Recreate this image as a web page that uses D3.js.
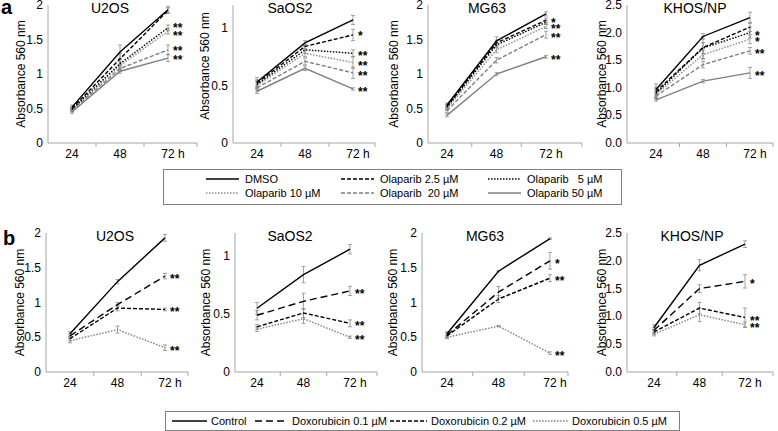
<!DOCTYPE html>
<html>
<head>
<meta charset="utf-8">
<script src="https://cdn.jsdelivr.net/npm/d3@7"></script>
<style>
  body { margin: 0; background: #fff; }
  svg { font-family: "Liberation Sans", Arial, sans-serif; }
  text { white-space: pre; }
</style>
</head>
<body>
<div id="fig"></div>
<script>
// categories
const HOURS = ["24", "48", "72"];
const OLA_NAMES = ["DMSO", "Olaparib 2.5 µM", "Olaparib   5 µM", "Olaparib 10 µM", "Olaparib  20 µM", "Olaparib 50 µM"];
const DOX_NAMES = ["Control", "Doxorubicin 0.1 µM", "Doxorubicin 0.2 µM", "Doxorubicin 0.5 µM"];

// panel a : olaparib (rows = series, cols = 24/48/72 h)
const U2OS_A = [[0.52, 1.32, 1.93], [0.50, 1.22, 1.92], [0.49, 1.15, 1.67], [0.48, 1.12, 1.62], [0.47, 1.08, 1.35], [0.45, 1.04, 1.23]];
const U2OS_A_ERR = [[0.03, 0.10, 0.05], [0.02, 0.08, 0.04], [0.02, 0.06, 0.04], [0.02, 0.05, 0.04], [0.02, 0.04, 0.07], [0.02, 0.03, 0.05]];
const U2OS_A_SIG = ["", "", "**", "**", "**", "**"];

const SAOS2_A = [[0.53, 0.87, 1.07], [0.52, 0.84, 0.94], [0.51, 0.81, 0.78], [0.50, 0.78, 0.70], [0.48, 0.71, 0.61], [0.45, 0.65, 0.47]];
const SAOS2_A_ERR = [[0.04, 0.02, 0.04], [0.03, 0.02, 0.05], [0.03, 0.03, 0.03], [0.03, 0.03, 0.05], [0.03, 0.03, 0.05], [0.02, 0.02, 0.01]];
const SAOS2_A_SIG = ["", "*", "**", "**", "**", "**"];

const MG63_A = [[0.55, 1.48, 1.87], [0.53, 1.45, 1.78], [0.52, 1.42, 1.75], [0.50, 1.35, 1.69], [0.47, 1.20, 1.57], [0.40, 1.00, 1.25]];
const MG63_A_ERR = [[0.03, 0.06, 0.03], [0.03, 0.04, 0.03], [0.03, 0.04, 0.03], [0.03, 0.04, 0.03], [0.03, 0.04, 0.05], [0.02, 0.02, 0.02]];
const MG63_A_SIG = ["", "*", "", "**", "**", "**"];

const KHOS_A = [[0.97, 1.93, 2.27], [0.93, 1.73, 2.10], [0.90, 1.72, 2.00], [0.88, 1.60, 1.88], [0.85, 1.42, 1.67], [0.78, 1.12, 1.27]];
const KHOS_A_ERR = [[0.10, 0.05, 0.10], [0.08, 0.20, 0.08], [0.08, 0.10, 0.10], [0.06, 0.08, 0.08], [0.05, 0.06, 0.06], [0.02, 0.03, 0.10]];
const KHOS_A_SIG = ["", "", "*", "*", "**", "**"];

// panel b : doxorubicin
const U2OS_B = [[0.55, 1.30, 1.93], [0.52, 0.97, 1.38], [0.48, 0.92, 0.90], [0.45, 0.61, 0.35]];
const U2OS_B_ERR = [[0.03, 0.03, 0.05], [0.03, 0.03, 0.04], [0.03, 0.04, 0.02], [0.03, 0.05, 0.04]];
const U2OS_B_SIG = ["", "**", "**", "**"];

const SAOS2_B = [[0.55, 0.84, 1.06], [0.49, 0.61, 0.70], [0.39, 0.51, 0.42], [0.37, 0.46, 0.30]];
const SAOS2_B_ERR = [[0.05, 0.07, 0.04], [0.04, 0.07, 0.04], [0.02, 0.04, 0.03], [0.02, 0.04, 0.01]];
const SAOS2_B_SIG = ["", "**", "**", "**"];

const MG63_B = [[0.55, 1.45, 1.92], [0.53, 1.15, 1.60], [0.52, 1.05, 1.35], [0.50, 0.66, 0.27]];
const MG63_B_ERR = [[0.03, 0.01, 0.01], [0.03, 0.08, 0.12], [0.03, 0.05, 0.05], [0.02, 0.01, 0.02]];
const MG63_B_SIG = ["", "*", "**", "**"];

const KHOS_B = [[0.80, 1.92, 2.30], [0.75, 1.50, 1.63], [0.72, 1.15, 0.98], [0.68, 1.03, 0.85]];
const KHOS_B_ERR = [[0.05, 0.10, 0.06], [0.05, 0.07, 0.12], [0.04, 0.10, 0.17], [0.03, 0.12, 0.05]];
const KHOS_B_SIG = ["", "*", "**", "**"];

// line styles
const OLA_STYLE = [
  {c: "#000", d: null}, {c: "#000", d: "4,2"}, {c: "#000", d: "1.5,1.5"},
  {c: "#8c8c8c", d: "1.5,1.5"}, {c: "#7f7f7f", d: "4,2"}, {c: "#7f7f7f", d: null}];
const DOX_STYLE = [
  {c: "#000", d: null}, {c: "#000", d: "7,4"}, {c: "#000", d: "4,2"}, {c: "#7f7f7f", d: "1.5,1.5"}];

const W = 778, H = 431;
var svg = d3.select("#fig").append("svg").attr("width", W).attr("height", H);

// panel layout
const TOP = {y0: 143, y1: 5, tickY: 158};
const BOT = {y0: 372, y1: 233, tickY: 387};

var panels = [
  {row: TOP, name: "U2OS", data: U2OS_A, err: U2OS_A_ERR, sig: U2OS_A_SIG, sigDy: [0, 0, -3, 2, -2, -1], st: OLA_STYLE, max: 2, fmt: d3.format(""), ax0: 48, ax1: 197, c: [72, 168], tx: 110, yt: 21},
  {row: TOP, name: "SaOS2", data: SAOS2_A, err: SAOS2_A_ERR, sig: SAOS2_A_SIG, sigDy: [0, -2, 0, 0, 0, 0], st: OLA_STYLE, max: 1.2, fmt: d3.format(""), ax0: 233, ax1: 375, c: [257, 353], tx: 290, yt: 205, ytY: 66},
  {row: TOP, name: "MG63", data: MG63_A, err: MG63_A_ERR, sig: MG63_A_SIG, st: OLA_STYLE, max: 2, fmt: d3.format(""), ax0: 428, ax1: 582, c: [447, 546], tx: 487, yt: 394},
  {row: TOP, name: "KHOS/NP", data: KHOS_A, err: KHOS_A_ERR, sig: KHOS_A_SIG, st: OLA_STYLE, max: 2.5, fmt: d3.format(".1f"), ax0: 627, ax1: 773, c: [656, 750], tx: 695, yt: 602},
  {row: BOT, name: "U2OS", data: U2OS_B, err: U2OS_B_ERR, sig: U2OS_B_SIG, st: DOX_STYLE, max: 2, fmt: d3.format(""), ax0: 46, ax1: 188, c: [70, 165], tx: 115, yt: 20},
  {row: BOT, name: "SaOS2", data: SAOS2_B, err: SAOS2_B_ERR, sig: SAOS2_B_SIG, st: DOX_STYLE, max: 1.2, fmt: d3.format(""), ax0: 235, ax1: 377, c: [257, 350], tx: 290, yt: 206},
  {row: BOT, name: "MG63", data: MG63_B, err: MG63_B_ERR, sig: MG63_B_SIG, st: DOX_STYLE, max: 2, fmt: d3.format(""), ax0: 422, ax1: 568, c: [447, 550], tx: 485, yt: 393},
  {row: BOT, name: "KHOS/NP", data: KHOS_B, err: KHOS_B_ERR, sig: KHOS_B_SIG, st: DOX_STYLE, max: 2.5, fmt: d3.format(".1f"), ax0: 627, ax1: 773, c: [654, 745], tx: 692, yt: 602}
];

function drawPanel(p)
{
  var g = svg.append("g");
  var x = d3.scalePoint().domain(HOURS).range(p.c);
  var y = d3.scaleLinear().domain([0, p.max]).range([p.row.y0, p.row.y1]);
  var ticks = d3.range(0, p.max + 1e-9, 0.5);

  // axes
  g.append("line").attr("x1", p.ax0).attr("x2", p.ax0).attr("y1", p.row.y0).attr("y2", p.row.y1)
    .attr("stroke", "#a6a6a6").attr("stroke-width", 1);
  g.append("line").attr("x1", p.ax0).attr("x2", p.ax1).attr("y1", p.row.y0).attr("y2", p.row.y0)
    .attr("stroke", "#a6a6a6").attr("stroke-width", 1);
  var bounds = [(x("24") + x("48")) / 2, (x("48") + x("72")) / 2, p.ax1];
  g.selectAll(".xt").data(bounds).enter().append("line")
    .attr("x1", d => d).attr("x2", d => d).attr("y1", p.row.y0).attr("y2", p.row.y0 + 4)
    .attr("stroke", "#a6a6a6");

  g.selectAll(".yl").data(ticks).enter().append("text")
    .attr("x", p.ax0 - 5).attr("y", d => y(d) + 4)
    .attr("text-anchor", "end").attr("font-size", 12).attr("fill", "#000")
    .text(d => p.fmt(d));

  g.selectAll(".xl").data(HOURS).enter().append("text")
    .attr("x", d => x(d)).attr("y", p.row.tickY)
    .attr("text-anchor", "middle").attr("font-size", 12).text(d => d);
  g.append("text").attr("x", x("72") + 10).attr("y", p.row.tickY).attr("font-size", 12).text("h");

  var ty = p.ytY || (p.row.y0 + p.row.y1) / 2;
  g.append("text")
    .attr("transform", "translate(" + (p.yt + 4) + "," + ty + ") rotate(-90)")
    .attr("text-anchor", "middle").attr("font-size", 12).text("Absorbance 560 nm");

  g.append("text").attr("x", p.tx).attr("y", p.row.y1 + 8)
    .attr("text-anchor", "middle").attr("font-size", 14).text(p.name);

  // error bars
  p.data.forEach(function(s, i) {
    s.forEach(function(v, j) {
      var e = p.err[i][j], cx = x(HOURS[j]);
      var eg = g.append("g").attr("stroke", "#8c8c8c").attr("stroke-width", 0.8);
      eg.append("line").attr("x1", cx).attr("x2", cx).attr("y1", y(v - e)).attr("y2", y(v + e));
      eg.append("line").attr("x1", cx - 2).attr("x2", cx + 2).attr("y1", y(v - e)).attr("y2", y(v - e));
      eg.append("line").attr("x1", cx - 2).attr("x2", cx + 2).attr("y1", y(v + e)).attr("y2", y(v + e));
    });
  });

  var line = d3.line().x((d, j) => x(HOURS[j])).y(d => y(d));
  // grey series first so the black ones stay on top
  var order = d3.range(p.data.length).reverse();
  order.forEach(function(i) {
    g.append("path").attr("d", line(p.data[i])).attr("fill", "none")
      .attr("stroke", p.st[i].c).attr("stroke-width", 1.4)
      .attr("stroke-dasharray", p.st[i].d);
  });

  p.sig.forEach(function(s, i) {
    if (!s) return;
    var dy = p.sigDy ? p.sigDy[i] : 0;
    g.append("text").attr("x", x("72") + 5).attr("y", y(p.data[i][2]) + 7 + dy)
      .attr("font-size", 12).attr("font-weight", "bold").text(s);
  });
}

panels.forEach(drawPanel);

svg.append("text").attr("x", 1).attr("y", 14).attr("font-size", 20).attr("font-weight", "bold").text("a");
svg.append("text").attr("x", 3).attr("y", 245).attr("font-size", 20).attr("font-weight", "bold").text("b");

// legend a
var la = svg.append("g");
la.append("rect").attr("x", 163.5).attr("y", 169.5).attr("width", 458).attr("height", 35)
  .attr("fill", "none").attr("stroke", "#808080");
var colX = [206, 341, 488];
OLA_NAMES.forEach(function(n, i) {
  var cx = colX[i % 3], cy = i < 3 ? 179 : 193;
  la.append("line").attr("x1", cx).attr("x2", cx + 33).attr("y1", cy).attr("y2", cy)
    .attr("stroke", OLA_STYLE[i].c).attr("stroke-width", 1.3).attr("stroke-dasharray", OLA_STYLE[i].d);
  la.append("text").attr("x", cx + 39).attr("y", cy + 4).attr("font-size", 11).text(n);
});

// legend b
var lb = svg.append("g");
lb.append("rect").attr("x", 165.5).attr("y", 411.5).attr("width", 514).attr("height", 19)
  .attr("fill", "none").attr("stroke", "#808080");
var lx = [172, 255, 390, 533], lens = [35, 33, 37, 35];
DOX_NAMES.forEach(function(n, i) {
  lb.append("line").attr("x1", lx[i]).attr("x2", lx[i] + lens[i]).attr("y1", 421).attr("y2", 421)
    .attr("stroke", DOX_STYLE[i].c).attr("stroke-width", 1.3).attr("stroke-dasharray", DOX_STYLE[i].d);
  lb.append("text").attr("x", lx[i] + lens[i] + 4).attr("y", 425).attr("font-size", 11).text(n);
});
</script>
</body>
</html>
